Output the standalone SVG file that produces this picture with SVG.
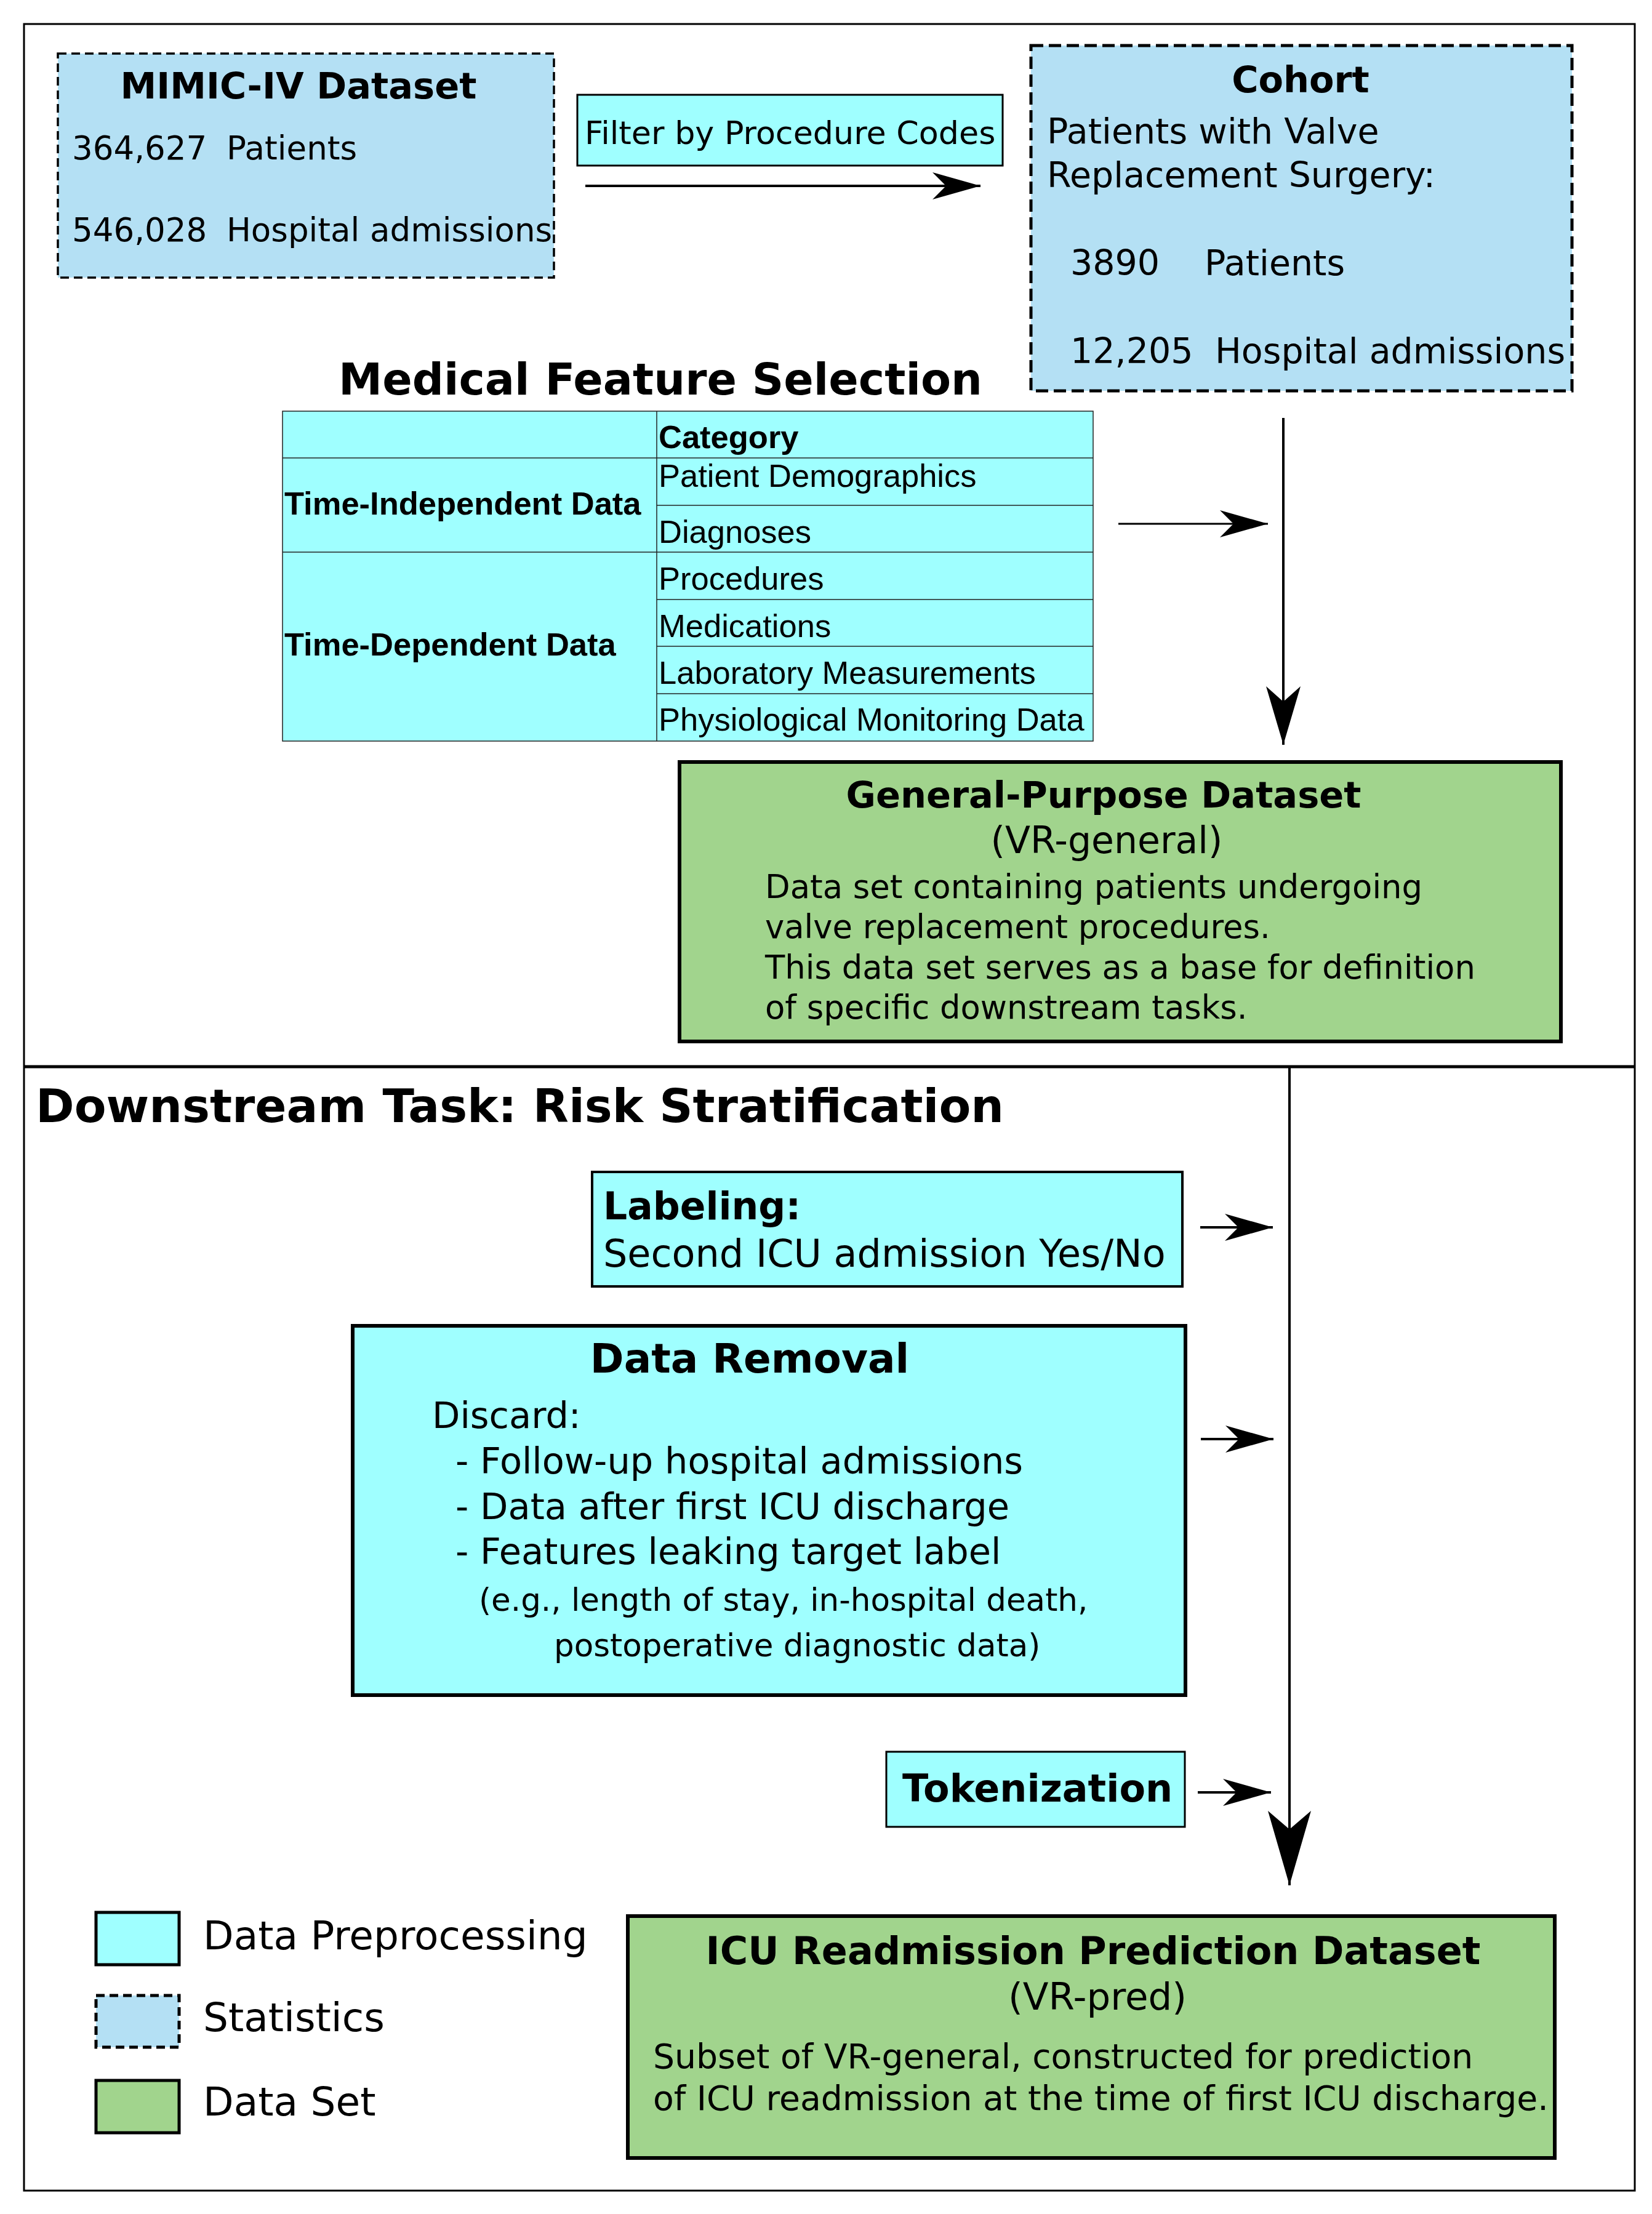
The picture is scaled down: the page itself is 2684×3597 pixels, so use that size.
<svg xmlns="http://www.w3.org/2000/svg" width="2684" height="3597" viewBox="0 0 2684 3597">
<style>
text{font-family:"DejaVu Sans","Noto Sans",sans-serif;fill:#000;white-space:pre}
.b{font-weight:bold}
.c{text-anchor:middle}
.t{font-family:"Liberation Sans",Arial,sans-serif}
.pre{fill:#9fffff;stroke:#000}
.stat{fill:#b4e0f4;stroke:#000;stroke-dasharray:14 8}
.stat.big{stroke-dasharray:20 9}
.ds{fill:#a1d48d;stroke:#000}
.cell{fill:#9fffff;stroke:#222;stroke-width:1.5}
.tl{stroke:#222;stroke-width:1.5}
.conn{stroke:#000;fill:none}
</style>
<defs>
<marker id="ah" markerUnits="userSpaceOnUse" viewBox="-80 -24 82 48" markerWidth="82" markerHeight="48" refX="0" refY="0" orient="auto" overflow="visible">
<path d="M0,0 L-78,-22 L-56,0 L-78,22 Z" fill="#000"/>
</marker>
<marker id="ahv1" markerUnits="userSpaceOnUse" viewBox="-100 -30 102 60" markerWidth="102" markerHeight="60" refX="0" refY="0" orient="auto" overflow="visible">
<path d="M0,0 L-95,-28 L-70,0 L-95,28 Z" fill="#000"/>
</marker>
<marker id="ahv2" markerUnits="userSpaceOnUse" viewBox="-125 -37 127 74" markerWidth="127" markerHeight="74" refX="0" refY="0" orient="auto" overflow="visible">
<path d="M0,0 L-121,-35 L-91,0 L-121,35 Z" fill="#000"/>
</marker>
</defs>
<rect width="2684" height="3597" fill="#fff"/>
<g id="frame">
<rect x="39" y="39" width="2617" height="3520" fill="none" stroke="#000" stroke-width="3"/>
<line x1="39" y1="1733" x2="2656" y2="1733" stroke="#000" stroke-width="5"/>
</g>
<g id="connectors">
<line class="conn" x1="951" y1="302" x2="1593" y2="302" stroke-width="4" marker-end="url(#ah)"/>
<line class="conn" x1="2085" y1="679" x2="2085" y2="1210" stroke-width="4" marker-end="url(#ahv1)"/>
<line class="conn" x1="1817" y1="851" x2="2060" y2="851" stroke-width="3" marker-end="url(#ah)"/>
<line class="conn" x1="2095" y1="1733" x2="2095" y2="3063" stroke-width="4" marker-end="url(#ahv2)"/>
<line class="conn" x1="1950" y1="1994" x2="2068" y2="1994" stroke-width="4" marker-end="url(#ah)"/>
<line class="conn" x1="1951" y1="2338" x2="2069" y2="2338" stroke-width="4" marker-end="url(#ah)"/>
<line class="conn" x1="1946" y1="2912" x2="2065" y2="2912" stroke-width="4" marker-end="url(#ah)"/>
</g>
<g id="mimic">
<rect class="stat" x="94" y="87" width="806" height="364" stroke-width="3.5"/>
<text class="b c" x="485" y="160" font-size="59">MIMIC-IV Dataset</text>
<text y="259" font-size="53"><tspan x="117">364,627</tspan><tspan x="368">Patients</tspan></text>
<text y="392" font-size="53"><tspan x="117">546,028</tspan><tspan x="368">Hospital admissions</tspan></text>
</g>
<g id="filter">
<rect class="pre" x="938" y="154" width="691" height="115" stroke-width="3"/>
<text x="950" y="234" font-size="52.3">Filter by Procedure Codes</text>
</g>
<g id="cohort">
<rect class="stat big" x="1675" y="74" width="879" height="561" stroke-width="5"/>
<text class="b c" x="2113" y="150" font-size="59">Cohort</text>
<text x="1701" y="233" font-size="57">Patients with Valve</text>
<text x="1701" y="304" font-size="57">Replacement Surgery:</text>
<text y="447" font-size="57"><tspan x="1739">3890</tspan><tspan x="1957">Patients</tspan></text>
<text y="590" font-size="57"><tspan x="1739">12,205</tspan><tspan x="1974">Hospital admissions</tspan></text>
</g>
<g id="feature-selection">
<text class="b c" x="1073" y="641" font-size="71.5">Medical Feature Selection</text>
<rect class="cell" x="459" y="668" width="1317" height="536"/>
<line class="tl" x1="1067" y1="668" x2="1067" y2="1204"/>
<line class="tl" x1="459" y1="744" x2="1776" y2="744"/>
<line class="tl" x1="1067" y1="821" x2="1776" y2="821"/>
<line class="tl" x1="459" y1="897" x2="1776" y2="897"/>
<line class="tl" x1="1067" y1="974" x2="1776" y2="974"/>
<line class="tl" x1="1067" y1="1050" x2="1776" y2="1050"/>
<line class="tl" x1="1067" y1="1127" x2="1776" y2="1127"/>
<text class="t b" x="1070" y="728" font-size="52.5">Category</text>
<text class="t" x="1070" y="791" font-size="52.5">Patient Demographics</text>
<text class="t" x="1070" y="882" font-size="52.5">Diagnoses</text>
<text class="t" x="1070" y="958" font-size="52.5">Procedures</text>
<text class="t" x="1070" y="1035" font-size="52.5">Medications</text>
<text class="t" x="1070" y="1111" font-size="52.5">Laboratory Measurements</text>
<text class="t" x="1070" y="1187" font-size="52.5">Physiological Monitoring Data</text>
<text class="t b" x="462" y="836" font-size="52.5">Time-Independent Data</text>
<text class="t b" x="462" y="1065" font-size="52.5">Time-Dependent Data</text>
</g>
<g id="general">
<rect class="ds" x="1104" y="1238" width="1432" height="454" stroke-width="6"/>
<text class="b c" x="1793" y="1312" font-size="59">General-Purpose Dataset</text>
<text class="c" x="1798" y="1386" font-size="60">(VR-general)</text>
<text x="1243" y="1459" font-size="52.8">Data set containing patients undergoing</text>
<text x="1243" y="1524" font-size="52.8">valve replacement procedures.</text>
<text x="1243" y="1590" font-size="52.8">This data set serves as a base for definition</text>
<text x="1243" y="1655" font-size="52.8">of specific downstream tasks.</text>
</g>
<g id="downstream-title">
<text class="b" x="58" y="1823" font-size="75.5">Downstream Task: Risk Stratification</text>
</g>
<g id="labeling">
<rect class="pre" x="962" y="1904" width="959" height="186" stroke-width="4"/>
<text class="b" x="980" y="1981" font-size="61.5">Labeling:</text>
<text x="980" y="2058" font-size="62">Second ICU admission Yes/No</text>
</g>
<g id="removal">
<rect class="pre" x="573" y="2154" width="1353" height="600" stroke-width="6"/>
<text class="b c" x="1218" y="2230" font-size="66">Data Removal</text>
<text x="702" y="2320" font-size="59">Discard:</text>
<text x="740" y="2394" font-size="59">- Follow-up hospital admissions</text>
<text x="740" y="2468" font-size="59">- Data after first ICU discharge</text>
<text x="740" y="2541" font-size="59">- Features leaking target label</text>
<text x="778" y="2617" font-size="51.5">(e.g., length of stay, in-hospital death,</text>
<text x="900" y="2691" font-size="51.5">postoperative diagnostic data)</text>
</g>
<g id="tokenization">
<rect class="pre" x="1440" y="2846" width="485" height="122" stroke-width="3"/>
<text class="b" x="1466" y="2927" font-size="62">Tokenization</text>
</g>
<g id="icu">
<rect class="ds" x="1020" y="3113" width="1506" height="393" stroke-width="6"/>
<text class="b c" x="1776" y="3191" font-size="62">ICU Readmission Prediction Dataset</text>
<text class="c" x="1783" y="3265" font-size="61">(VR-pred)</text>
<text x="1061" y="3360" font-size="55.2">Subset of VR-general, constructed for prediction</text>
<text x="1061" y="3428" font-size="55.2">of ICU readmission at the time of first ICU discharge.</text>
</g>
<g id="legend">
<rect class="pre" x="156" y="3107" width="135" height="85" stroke-width="5"/>
<text x="330" y="3167" font-size="64.5">Data Preprocessing</text>
<rect class="stat" x="156" y="3242" width="135" height="84" stroke-width="5"/>
<text x="330" y="3300" font-size="64.5">Statistics</text>
<rect class="ds" x="156" y="3380" width="135" height="85" stroke-width="5"/>
<text x="330" y="3437" font-size="64.5">Data Set</text>
</g>
</svg>
